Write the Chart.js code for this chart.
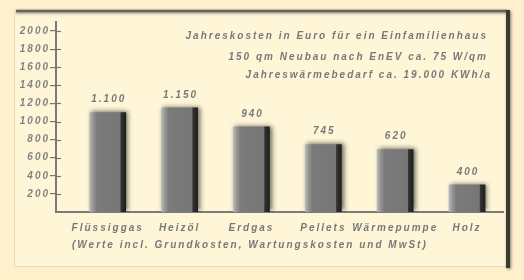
<!DOCTYPE html>
<html>
<head>
<meta charset="utf-8">
<script src="https://cdn.jsdelivr.net/npm/chart.js@4.4.1/dist/chart.umd.min.js"></script>
<style>
html,body{margin:0;padding:0;background:#FDF0CB;}
#wrap{width:524px;height:280px;position:relative;}
</style>
</head>
<body>
<div id="wrap"><canvas id="c" width="524" height="280"></canvas></div>
<script>
// ---- data ----
const categories = ['Flüssiggas', 'Heizöl', 'Erdgas', 'Pellets', 'Wärmepumpe', 'Holz'];
const barValues = [1100, 1150, 940, 745, 690, 300];        // bar heights as drawn
const valueLabels = ['1.100', '1.150', '940', '745', '620', '400']; // printed values
const yTickValues = [200, 400, 600, 800, 1000, 1200, 1400, 1600, 1800, 2000];
const titleLines = [
  'Jahreskosten in Euro für ein Einfamilienhaus',
  '150 qm Neubau nach EnEV ca. 75 W/qm',
  'Jahreswärmebedarf ca. 19.000 KWh/a'
];
const footnote = '(Werte incl. Grundkosten, Wartungskosten und MwSt)';
const yMax = 2100;

const FONT = 'bold italic 10px "Liberation Sans", Arial, sans-serif';
const TEXT = '#787878';
const SPACING = '2px';

const framePlugin = {
  id: 'frame',
  beforeLayout(chart) { chart.ctx.letterSpacing = SPACING; },
  beforeDraw(chart) {
    const ctx = chart.ctx;
    ctx.save();
    ctx.fillStyle = '#FDF0CB';
    ctx.fillRect(0, 0, chart.width, chart.height);
    ctx.fillStyle = '#FFF5D7';
    ctx.fillRect(14, 12, 494, 255);
    ctx.strokeStyle = '#E2DAC0';
    ctx.lineWidth = 1;
    ctx.beginPath();
    ctx.moveTo(14.5, 14); ctx.lineTo(14.5, 266.5); ctx.lineTo(506, 266.5);
    ctx.stroke();
    ctx.shadowColor = 'rgba(0,0,0,0.5)';
    ctx.shadowBlur = 3;
    ctx.shadowOffsetY = 1;
    ctx.strokeStyle = '#67635a';
    ctx.lineWidth = 2.5;
    ctx.beginPath(); ctx.moveTo(16, 11); ctx.lineTo(507, 11); ctx.stroke();
    ctx.shadowOffsetX = 1;
    ctx.fillStyle = '#3b3934';
    ctx.fillRect(506, 10, 4, 258);
    ctx.restore();
    ctx.letterSpacing = SPACING;
  },
  beforeDatasetsDraw(chart) {
    const ctx = chart.ctx;
    ctx.save();
    ctx.shadowColor = 'rgba(0,0,0,0.6)';
    ctx.shadowBlur = 5;
    ctx.shadowOffsetX = 2;
    ctx.shadowOffsetY = -1;
  },
  afterDatasetsDraw(chart) {
    chart.ctx.restore();
  },
  afterDraw(chart) {
    const ctx = chart.ctx;
    const ys = chart.scales.y;
    const xs = chart.scales.x;
    ctx.save();
    // right-side stubs of y ticks
    ctx.strokeStyle = '#777';
    ctx.lineWidth = 1.2;
    ys.ticks.forEach(t => {
      const y = Math.round(ys.getPixelForValue(t.value)) + 0.5;
      ctx.beginPath(); ctx.moveTo(xs.left, y); ctx.lineTo(xs.left + 5, y); ctx.stroke();
    });
    ctx.font = FONT;
    ctx.fillStyle = TEXT;
    ctx.letterSpacing = SPACING;
    ctx.textBaseline = 'middle';
    // value labels
    ctx.textAlign = 'center';
    const meta = chart.getDatasetMeta(0);
    meta.data.forEach((bar, i) => {
      ctx.fillText(valueLabels[i], bar.x + 1, bar.y - 13);
    });
    // title lines
    ctx.textAlign = 'right';
    const tx = [488, 488, 492];
    const ty = [36, 57.5, 75];
    titleLines.forEach((l, i) => ctx.fillText(l, tx[i], ty[i]));
    // footnote
    ctx.textAlign = 'left';
    ctx.fillText(footnote, 72, 245);
    ctx.restore();
  }
};

new Chart(document.getElementById('c'), {
  type: 'bar',
  data: {
    datasets: [{
      data: categories.map((c, i) => ({ x: i, y: barValues[i] })),
      barThickness: 36,
      borderWidth: 0,
      backgroundColor(ctx) {
        const chart = ctx.chart;
        const xs = chart.scales && chart.scales.x;
        if (!xs || ctx.type !== 'data') return '#7a7a7a';
        const cx = xs.getPixelForValue(ctx.dataIndex);
        if (!isFinite(cx)) return '#7a7a7a';
        const g = chart.ctx.createLinearGradient(cx - 18, 0, cx + 18, 0);
        g.addColorStop(0, '#b8b8b8');
        g.addColorStop(0.1, '#939393');
        g.addColorStop(0.2, '#7b7b7b');
        g.addColorStop(0.84, '#767676');
        g.addColorStop(0.87, '#333');
        g.addColorStop(1, '#1e1e1e');
        return g;
      }
    }]
  },
  options: {
    responsive: false,
    animation: false,
    devicePixelRatio: 1,
    layout: { padding: { top: 22, right: 21, left: 0, bottom: 0 } },
    plugins: { legend: { display: false }, tooltip: { enabled: false }, title: { display: false } },
    scales: {
      x: {
        type: 'linear',
        min: -0.72,
        max: 5.5,
        offset: false,
        grid: { display: false },
        border: { display: true, color: '#7a7a7a', width: 2 },
        afterBuildTicks(scale) {
          scale.ticks = categories.map((c, i) => ({ value: i }));
        },
        afterFit(scale) { scale.height = 68; },
        ticks: {
          autoSkip: false,
          maxRotation: 0,
          padding: 2,
          color: TEXT,
          font: { family: '"Liberation Sans", Arial, sans-serif', size: 10, style: 'italic', weight: 'bold' },
          callback: (v) => categories[v]
        }
      },
      y: {
        min: 0,
        max: yMax,
        grid: { drawOnChartArea: false, drawTicks: true, tickLength: 6, color: '#777', lineWidth: 1.2 },
        border: { display: true, color: '#7a7a7a', width: 2 },
        afterBuildTicks(scale) {
          scale.ticks = yTickValues.map(v => ({ value: v }));
        },
        afterFit(scale) { scale.width = 56; },
        ticks: {
          padding: 0,
          color: '#828282',
          font: { family: '"Liberation Sans", Arial, sans-serif', size: 10, style: 'italic', weight: 'bold' },
          callback: (v) => String(v)
        }
      }
    }
  },
  plugins: [framePlugin]
});
</script>
</body>
</html>
